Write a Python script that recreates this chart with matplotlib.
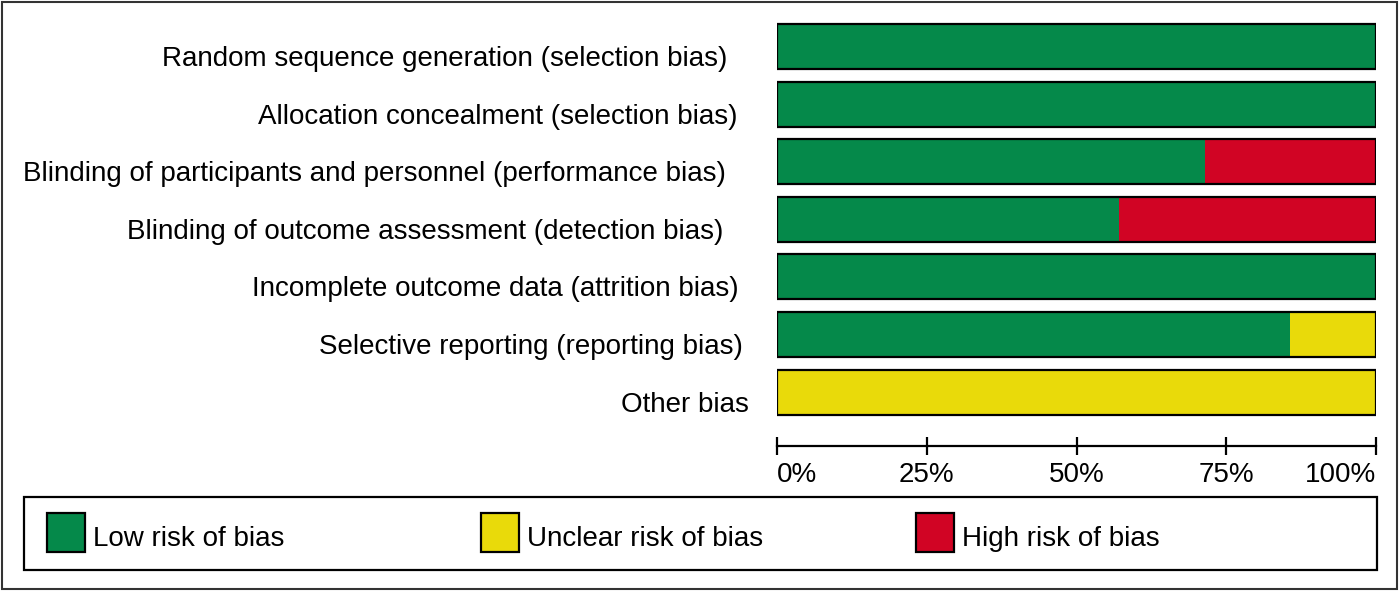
import matplotlib.pyplot as plt
from matplotlib.patches import Rectangle

plt.rcParams['font.family'] = ['Liberation Sans', 'DejaVu Sans']

# Risk of bias summary: 7 studies per domain
domains = [
    'Random sequence generation (selection bias)',
    'Allocation concealment (selection bias)',
    'Blinding of participants and personnel (performance bias)',
    'Blinding of outcome assessment (detection bias)',
    'Incomplete outcome data (attrition bias)',
    'Selective reporting (reporting bias)',
    'Other bias',
]
n_studies = 7
low_risk = [7, 7, 5, 4, 7, 6, 0]
unclear_risk = [0, 0, 0, 0, 0, 1, 7]
high_risk = [0, 0, 2, 3, 0, 0, 0]
tick_values = [0, 0.25, 0.5, 0.75, 1.0]
tick_labels = ['0%', '25%', '50%', '75%', '100%']
legend_labels = ['Low risk of bias', 'Unclear risk of bias', 'High risk of bias']

green = '#05894A'
yellow = '#E9DA0A'
red = '#D10424'

# label right edges in pixels (labels are not perfectly aligned in the original)
label_right_px = [727, 737, 726, 723, 739, 743, 749]

W, H = 1400, 592
fig = plt.figure(figsize=(W / 100, H / 100), dpi=100)


def fx(px):
    return px / W


def fy(py):
    return 1 - py / H


# bar area
x0, x1 = 777, 1376
row_top, pitch = 46.5 - 28.8, 57.6
ax = fig.add_axes([fx(x0), fy(row_top + 7 * pitch), fx(x1) - fx(x0), 7 * pitch / H])
ax.set_xlim(0, 1)
ax.set_ylim(6.5, -0.5)
ax.axis('off')

left = [0] * len(domains)
for vals, col in [(low_risk, green), (unclear_risk, yellow), (high_risk, red)]:
    widths = [v / n_studies for v in vals]
    ax.barh(range(len(domains)), widths, left=left, height=0.78, color=col,
            edgecolor='none')
    left = [l + w for l, w in zip(left, widths)]
# outline of each full bar
ax.barh(range(len(domains)), [1] * len(domains), height=0.78, color='none',
        edgecolor='black', linewidth=1.6)

for i, name in enumerate(domains):
    fig.text(fx(label_right_px[i]), fy(row_top + pitch * (i + 0.5) + 19.5), name,
             ha='right', va='baseline', fontsize=20)

# percentage axis
axx = fig.add_axes([fx(x0), fy(446), fx(x1) - fx(x0), 0.0001])
axx.set_xlim(0, 1)
for s in ['top', 'left', 'right']:
    axx.spines[s].set_visible(False)
axx.spines['bottom'].set_linewidth(1.6)
axx.set_yticks([])
axx.set_xticks(tick_values)
axx.set_xticklabels(tick_labels, fontsize=20)
axx.tick_params(axis='x', direction='inout', length=13, width=1.6, pad=5)
tl = axx.get_xticklabels()
tl[0].set_ha('left')
tl[-1].set_ha('right')

# legend box
fig.patches.append(Rectangle((fx(24), fy(570)), fx(1377) - fx(24), fy(497) - fy(570),
                             transform=fig.transFigure, fill=False,
                             edgecolor='black', linewidth=1.6))
legend_x = [47, 481, 916]
for lx, lab, col in zip(legend_x, legend_labels, [green, yellow, red]):
    fig.patches.append(Rectangle((fx(lx), fy(552)), fx(38), 39 / H,
                                 transform=fig.transFigure, facecolor=col,
                                 edgecolor='black', linewidth=1.6))
    fig.text(fx(lx + 46), fy(546), lab, ha='left', va='baseline', fontsize=20)

# outer border
fig.patches.append(Rectangle((fx(2), fy(589)), fx(1395), 587 / H,
                             transform=fig.transFigure, fill=False,
                             edgecolor='#333333', linewidth=1.5))

fig.savefig('out.png', dpi=100)
